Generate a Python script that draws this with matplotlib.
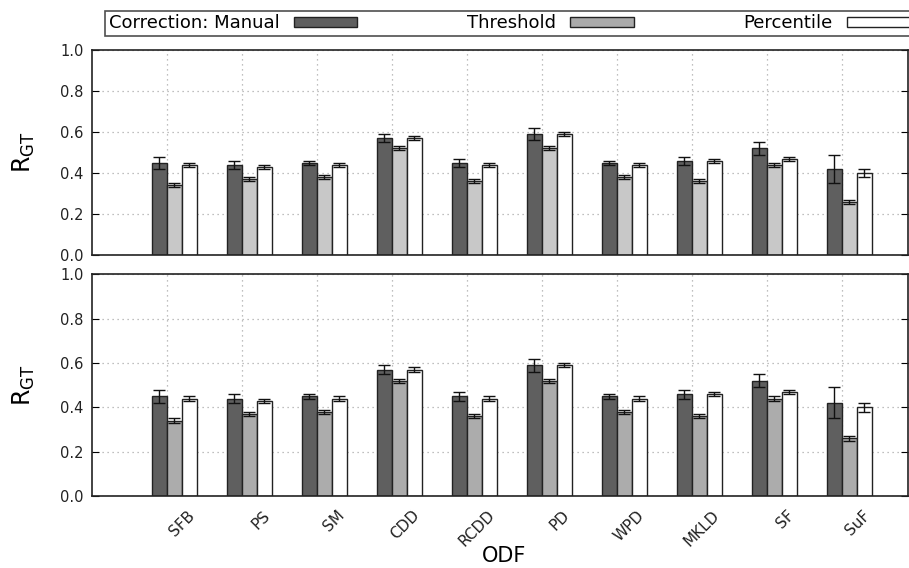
import matplotlib
matplotlib.use("Agg")
import matplotlib.pyplot as plt
import matplotlib.transforms as mtransforms
from matplotlib.patches import Patch
import numpy as np

# ODF categories and R_GT values (mean, std) for each correction
odf = ["SFB", "PS", "SM", "CDD", "RCDD", "PD", "WPD", "MKLD", "SF", "SuF"]
manual = [0.45, 0.44, 0.45, 0.57, 0.45, 0.59, 0.45, 0.46, 0.52, 0.42]
manual_err = [0.03, 0.02, 0.01, 0.02, 0.02, 0.03, 0.01, 0.02, 0.03, 0.07]
threshold = [0.34, 0.37, 0.38, 0.52, 0.36, 0.52, 0.38, 0.36, 0.44, 0.26]
threshold_err = [0.01, 0.01, 0.01, 0.01, 0.01, 0.01, 0.01, 0.01, 0.01, 0.01]
percentile = [0.44, 0.43, 0.44, 0.57, 0.44, 0.59, 0.44, 0.46, 0.47, 0.40]
percentile_err = [0.01, 0.01, 0.01, 0.01, 0.01, 0.01, 0.01, 0.01, 0.01, 0.02]

yticks = [0.0, 0.2, 0.4, 0.6, 0.8, 1.0]

plt.rcParams['font.family'] = ['DejaVu Sans']

fig = plt.figure(figsize=(9.09, 5.68), dpi=100)
ax_top = fig.add_axes([0.1012, 0.551, 0.8977, 0.361])
ax_bot = fig.add_axes([0.1012, 0.1268, 0.8977, 0.390])

x = np.arange(1, len(odf) + 1)
w = 0.19
edge = "#222222"


def draw_panel(ax, thr_color):
    ax.set_axisbelow(True)
    ax.grid(True, color="#aaaaaa", linestyle=(0, (1, 3)), linewidth=0.9)
    ekw = dict(ecolor="#111111", elinewidth=1, capthick=1)
    ax.bar(x - 0.1, manual, w, yerr=manual_err, color="#5f5f5f",
           edgecolor=edge, linewidth=1, capsize=4, error_kw=ekw)
    ax.bar(x + 0.1, threshold, w, yerr=threshold_err, color=thr_color,
           edgecolor=edge, linewidth=1, capsize=4, error_kw=ekw)
    ax.bar(x + 0.3, percentile, w, yerr=percentile_err, color="white",
           edgecolor=edge, linewidth=1, capsize=4, error_kw=ekw)
    ax.set_xlim(0, 10.88)
    ax.set_ylim(0, 1.0)
    ax.set_yticks(yticks)
    ax.set_yticklabels(["%.1f" % v for v in yticks], fontsize=10.5, color="#222222")
    ax.set_xticks(x)
    ax.tick_params(axis="y", direction="in", length=5, right=True, pad=6)
    ax.tick_params(axis="x", length=0)
    for s in ax.spines.values():
        s.set_linewidth(1.2)
        s.set_color("#222222")
    ax.set_ylabel(r"$\mathregular{R_{GT}}$", fontsize=17, labelpad=17)


draw_panel(ax_top, "#c8c8c8")
draw_panel(ax_bot, "#acacac")

ax_top.set_xticklabels([])
ax_bot.set_xticklabels(odf, rotation=45, ha="right", va="top",
                       rotation_mode="anchor", fontsize=11, color="#222222")
offset = mtransforms.ScaledTranslation(0.20, -0.07, fig.dpi_scale_trans)
for lbl in ax_bot.get_xticklabels():
    lbl.set_transform(lbl.get_transform() + offset)
ax_bot.set_xlabel("ODF", fontsize=15, va="center")
ax_bot.xaxis.set_label_coords(0.505, -0.27)

handles = [Patch(facecolor="#5f5f5f", edgecolor=edge),
           Patch(facecolor="#aaaaaa", edgecolor=edge),
           Patch(facecolor="white", edgecolor=edge)]
leg = fig.legend(handles, ["Correction: Manual", "Threshold", "Percentile"],
                 loc="lower left", bbox_to_anchor=(105 / 909, 1 - 36 / 568, 0.89, 24 / 568),
                 ncol=3, mode="expand", markerfirst=False, fontsize=13,
                 handlelength=3.5, handleheight=0.55, borderaxespad=0,
                 borderpad=0.2, fancybox=False, frameon=True)
leg.get_frame().set_edgecolor("#222222")
leg.get_frame().set_linewidth(1.2)

fig.savefig("out.png", dpi=100)
